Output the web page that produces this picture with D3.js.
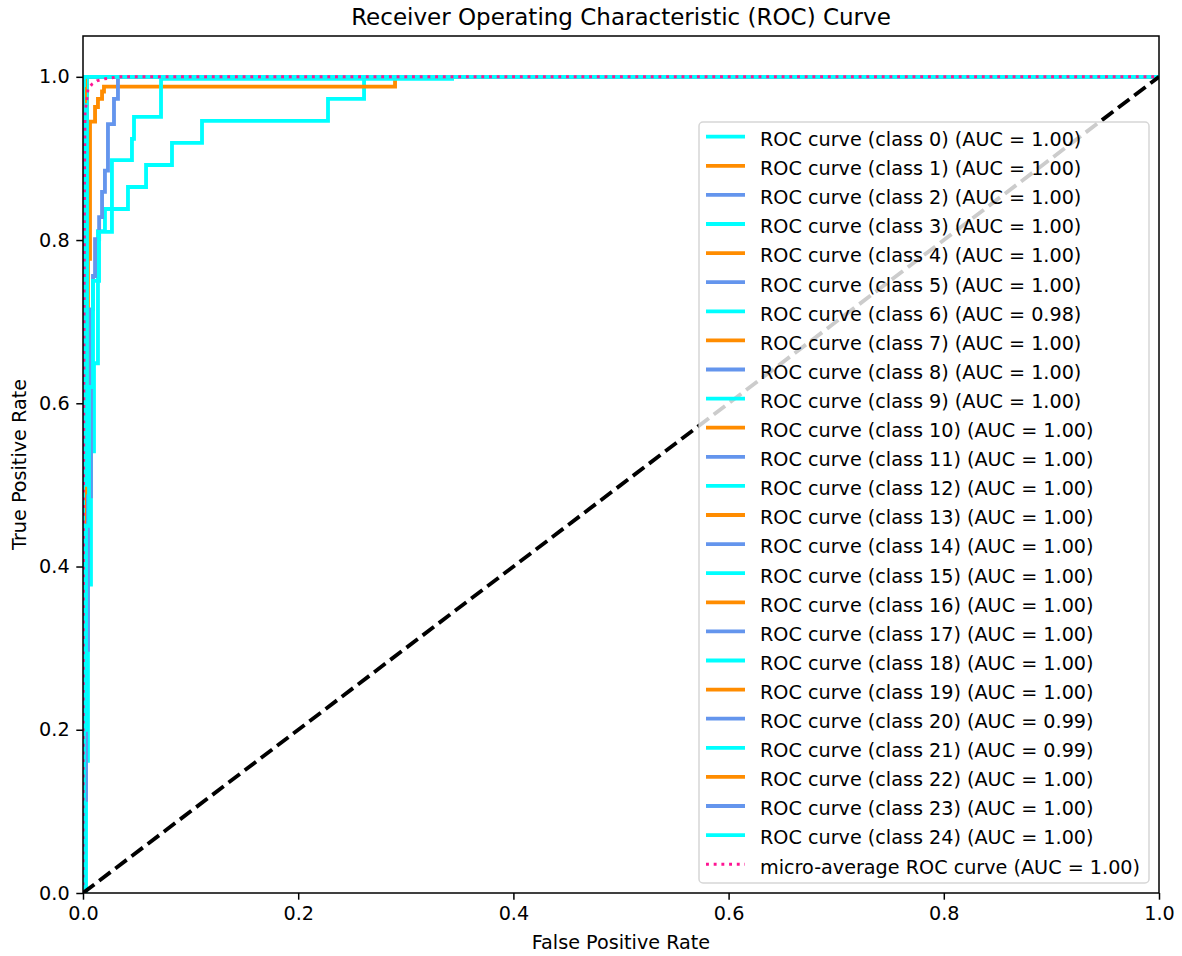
<!DOCTYPE html>
<html>
<head>
<meta charset="utf-8">
<script src="https://cdn.jsdelivr.net/npm/d3@7"></script>
<style>
  html, body { margin: 0; padding: 0; background: #ffffff; }
  svg { display: block; font-family: "DejaVu Sans", sans-serif; }
</style>
</head>
<body>
<svg id="chart" width="1182" height="956"></svg>
<script>
// ---- data ---------------------------------------------------------------
const classIds = d3.range(25);

const aucValues = [1.00, 1.00, 1.00, 1.00, 1.00, 1.00, 0.98, 1.00, 1.00, 1.00,
                   1.00, 1.00, 1.00, 1.00, 1.00, 1.00, 1.00, 1.00, 1.00, 1.00,
                   0.99, 0.99, 1.00, 1.00, 1.00];
const microAuc = 1.00;

// false positive rates per class
const classFpr = [
  [0, 0, 0.0019, 0.0019, 1],
  [0, 0, 0.0009, 0.0009, 1],
  [0, 0, 0.0019, 0.0019, 1],
  [0, 0.0028, 0.0028, 1],
  [0, 0, 0.0019, 0.0019, 0.0037, 0.0037, 1],
  [0, 0, 0.0009, 0.0009, 1],
  [0, 0, 0.0019, 0.0019, 0.0046, 0.0046, 0.0074, 0.0074, 0.0102, 0.0102, 0.0139, 0.0139,
   0.0204, 0.0204, 0.0418, 0.0418, 0.0586, 0.0586, 0.0827, 0.0827, 0.1106, 0.1106,
   0.2277, 0.2277, 0.2612, 0.2612, 1],
  [0, 0, 0.0009, 0.0009, 1],
  [0, 0, 1],
  [0, 0, 0.0009, 0.0009, 1],
  [0, 0, 0.0009, 0.0009, 0.0028, 0.0028, 0.0046, 0.0046, 0.0065, 0.0065, 0.0112, 0.0112,
   0.0139, 0.0139, 0.0177, 0.0177, 0.0195, 0.0195, 0.29, 0.29, 1],
  [0, 0, 0.0028, 0.0028, 1],
  [0, 0, 0.0009, 0.0009, 1],
  [0, 0, 0.0019, 0.0019, 1],
  [0, 0, 1],
  [0, 0, 0.0019, 0.0019, 1],
  [0, 0, 1],
  [0, 0, 0.0009, 0.0009, 1],
  [0, 0, 0.0037, 0.0037, 1],
  [0, 0, 0.0009, 0.0009, 1],
  [0, 0, 0.0009, 0.0009, 0.0028, 0.0028, 0.0046, 0.0046, 0.0074, 0.0074, 0.0093, 0.0093,
   0.0112, 0.0112, 0.015, 0.015, 0.0177, 0.0177, 0.0204, 0.0204, 0.0232, 0.0232,
   0.0288, 0.0288, 0.0325, 0.0325, 1],
  [0, 0, 0.0009, 0.0009, 0.0028, 0.0028, 0.0056, 0.0056, 0.0093, 0.0093, 0.0149, 0.0149,
   0.0269, 0.0269, 0.0455, 0.0455, 0.0474, 0.0474, 0.0725, 0.0725, 0.343, 0.343, 1],
  [0, 0, 0.0019, 0.0019, 1],
  [0, 0, 1],
  [0, 0, 0.0009, 0.0009, 1]
];

// true positive rates per class
const classTpr = [
  [0, 0.96, 0.96, 1, 1],
  [0, 0.95, 0.95, 1, 1],
  [0, 0.91, 0.91, 1, 1],
  [0, 0, 1, 1],
  [0, 0.45, 0.45, 0.8, 0.8, 1, 1],
  [0, 0.97, 0.97, 1, 1],
  [0, 0.027, 0.027, 0.162, 0.162, 0.378, 0.378, 0.541, 0.541, 0.649, 0.649, 0.811,
   0.811, 0.838, 0.838, 0.865, 0.865, 0.892, 0.892, 0.919, 0.919, 0.946,
   0.946, 0.973, 0.973, 1, 1],
  [0, 0.9, 0.9, 1, 1],
  [0, 1, 1],
  [0, 0.93, 0.93, 1, 1],
  [0, 0.25, 0.25, 0.433, 0.433, 0.605, 0.605, 0.777, 0.777, 0.945, 0.945, 0.963,
   0.963, 0.973, 0.973, 0.982, 0.982, 0.988, 0.988, 1, 1],
  [0, 0.97, 0.97, 1, 1],
  [0, 0.85, 0.85, 1, 1],
  [0, 0.94, 0.94, 1, 1],
  [0, 1, 1],
  [0, 0.98, 0.98, 1, 1],
  [0, 1, 1],
  [0, 0.96, 0.96, 1, 1],
  [0, 0.5, 0.5, 1, 1],
  [0, 0.98, 0.98, 1, 1],
  [0, 0.05, 0.05, 0.114, 0.114, 0.298, 0.298, 0.486, 0.486, 0.715, 0.715, 0.756,
   0.756, 0.801, 0.801, 0.828, 0.828, 0.859, 0.859, 0.885, 0.885, 0.942,
   0.942, 0.973, 0.973, 1, 1],
  [0, 0.05, 0.05, 0.2, 0.2, 0.45, 0.45, 0.62, 0.62, 0.75, 0.75, 0.81,
   0.81, 0.898, 0.898, 0.924, 0.924, 0.951, 0.951, 0.9975, 0.9975, 1, 1],
  [0, 0.97, 0.97, 1, 1],
  [0, 1, 1],
  [0, 0.99, 0.99, 1, 1]
];

// micro-averaged curve
const microFpr = [0, 0.0005, 0.0014, 0.0019, 0.0037, 0.0046, 0.0084, 0.013, 0.020, 0.033, 1];
const microTpr = [0, 0.5, 0.88, 0.957, 0.973, 0.985, 0.991, 0.995, 0.9975, 1, 1];

const chanceLine = [0, 1];

const xTicks = [0.0, 0.2, 0.4, 0.6, 0.8, 1.0];
const yTicks = [0.0, 0.2, 0.4, 0.6, 0.8, 1.0];

const colorCycle = ["#00ffff", "#ff8c00", "#6495ed"];
const microColor = "#ff1493";

// ---- layout -------------------------------------------------------------
const W = 1182, H = 956;
const plot = { left: 83, top: 36, right: 1159, bottom: 893 };
const fontSize = 19.2;

const svg = d3.select("#chart");

const x = d3.scaleLinear().domain([0, 1]).range([plot.left, plot.right]);
const y = d3.scaleLinear().domain([0, 1.05]).range([plot.bottom, plot.top]);

svg.append("defs").append("clipPath").attr("id", "plot-clip")
  .append("rect")
  .attr("x", plot.left).attr("y", plot.top)
  .attr("width", plot.right - plot.left).attr("height", plot.bottom - plot.top);

const line = d3.line().x(d => x(d[0])).y(d => y(d[1]));

const marks = svg.append("g").attr("clip-path", "url(#plot-clip)");

// one ROC curve per class, in class order
classIds.forEach(i => {
  const pts = classFpr[i].map((f, k) => [f, classTpr[i][k]]);
  marks.append("path")
    .attr("d", line(pts))
    .attr("fill", "none")
    .attr("stroke", colorCycle[i % 3])
    .attr("stroke-width", 3.84)
    .attr("stroke-linejoin", "miter")
    .attr("stroke-linecap", "butt");
});

// micro-average (dotted)
marks.append("path")
  .attr("d", line(microFpr.map((f, k) => [f, microTpr[k]])))
  .attr("fill", "none")
  .attr("stroke", microColor)
  .attr("stroke-width", 2.9)
  .attr("stroke-dasharray", "2.9 4.8");

// chance diagonal
marks.append("path")
  .attr("d", line(chanceLine.map(v => [v, v])))
  .attr("fill", "none")
  .attr("stroke", "#000000")
  .attr("stroke-width", 3.84)
  .attr("stroke-dasharray", "14.2 6.1");

// ---- axes ---------------------------------------------------------------
const fmt = d3.format(".1f");

const xAxis = svg.append("g")
  .attr("transform", `translate(0,${plot.bottom})`)
  .call(d3.axisBottom(x).tickValues(xTicks).tickFormat(fmt).tickSize(6.7).tickPadding(6.7));
const yAxis = svg.append("g")
  .attr("transform", `translate(${plot.left},0)`)
  .call(d3.axisLeft(y).tickValues(yTicks).tickFormat(fmt).tickSize(6.7).tickPadding(6.7));

[xAxis, yAxis].forEach(g => {
  g.select(".domain").remove();
  g.selectAll(".tick line").attr("stroke", "#000").attr("stroke-width", 1.5);
  g.selectAll(".tick text")
    .attr("fill", "#000")
    .style("font-size", fontSize + "px")
    .style("font-family", "'DejaVu Sans', sans-serif");
});

// frame
svg.append("rect")
  .attr("x", plot.left).attr("y", plot.top)
  .attr("width", plot.right - plot.left).attr("height", plot.bottom - plot.top)
  .attr("fill", "none").attr("stroke", "#000").attr("stroke-width", 1.5);

// titles
svg.append("text")
  .attr("x", (plot.left + plot.right) / 2).attr("y", 25)
  .attr("text-anchor", "middle")
  .style("font-size", "23px")
  .text("Receiver Operating Characteristic (ROC) Curve");

svg.append("text")
  .attr("x", (plot.left + plot.right) / 2).attr("y", 949)
  .attr("text-anchor", "middle")
  .style("font-size", fontSize + "px")
  .text("False Positive Rate");

svg.append("text")
  .attr("transform", `translate(26,${(plot.top + plot.bottom) / 2}) rotate(-90)`)
  .attr("text-anchor", "middle")
  .style("font-size", fontSize + "px")
  .text("True Positive Rate");

// ---- legend -------------------------------------------------------------
const entries = classIds.map(i => ({
  label: `ROC curve (class ${i}) (AUC = ${aucValues[i].toFixed(2)})`,
  color: colorCycle[i % 3],
  dotted: false
}));
entries.push({ label: `micro-average ROC curve (AUC = ${microAuc.toFixed(2)})`, color: microColor, dotted: true });

const legend = svg.append("g");
legend.append("rect")
  .attr("x", 699).attr("y", 122)
  .attr("width", 450).attr("height", 761)
  .attr("rx", 4).attr("ry", 4)
  .attr("fill", "#ffffff").attr("fill-opacity", 0.8)
  .attr("stroke", "#cccccc").attr("stroke-opacity", 0.8).attr("stroke-width", 1.5);

const rowStep = 29.1, firstRow = 136.7;
const rows = legend.selectAll("g.row").data(entries).join("g")
  .attr("class", "row")
  .attr("transform", (d, k) => `translate(0,${firstRow + k * rowStep})`);

rows.append("line")
  .attr("x1", 706).attr("x2", 745)
  .attr("y1", 0).attr("y2", 0)
  .attr("stroke", d => d.color)
  .attr("stroke-width", d => d.dotted ? 2.9 : 3.84)
  .attr("stroke-dasharray", d => d.dotted ? "2.9 4.8" : null);

rows.append("text")
  .attr("x", 760).attr("y", 9.3)
  .style("font-size", fontSize + "px")
  .attr("fill", "#000")
  .text(d => d.label);
</script>
</body>
</html>
